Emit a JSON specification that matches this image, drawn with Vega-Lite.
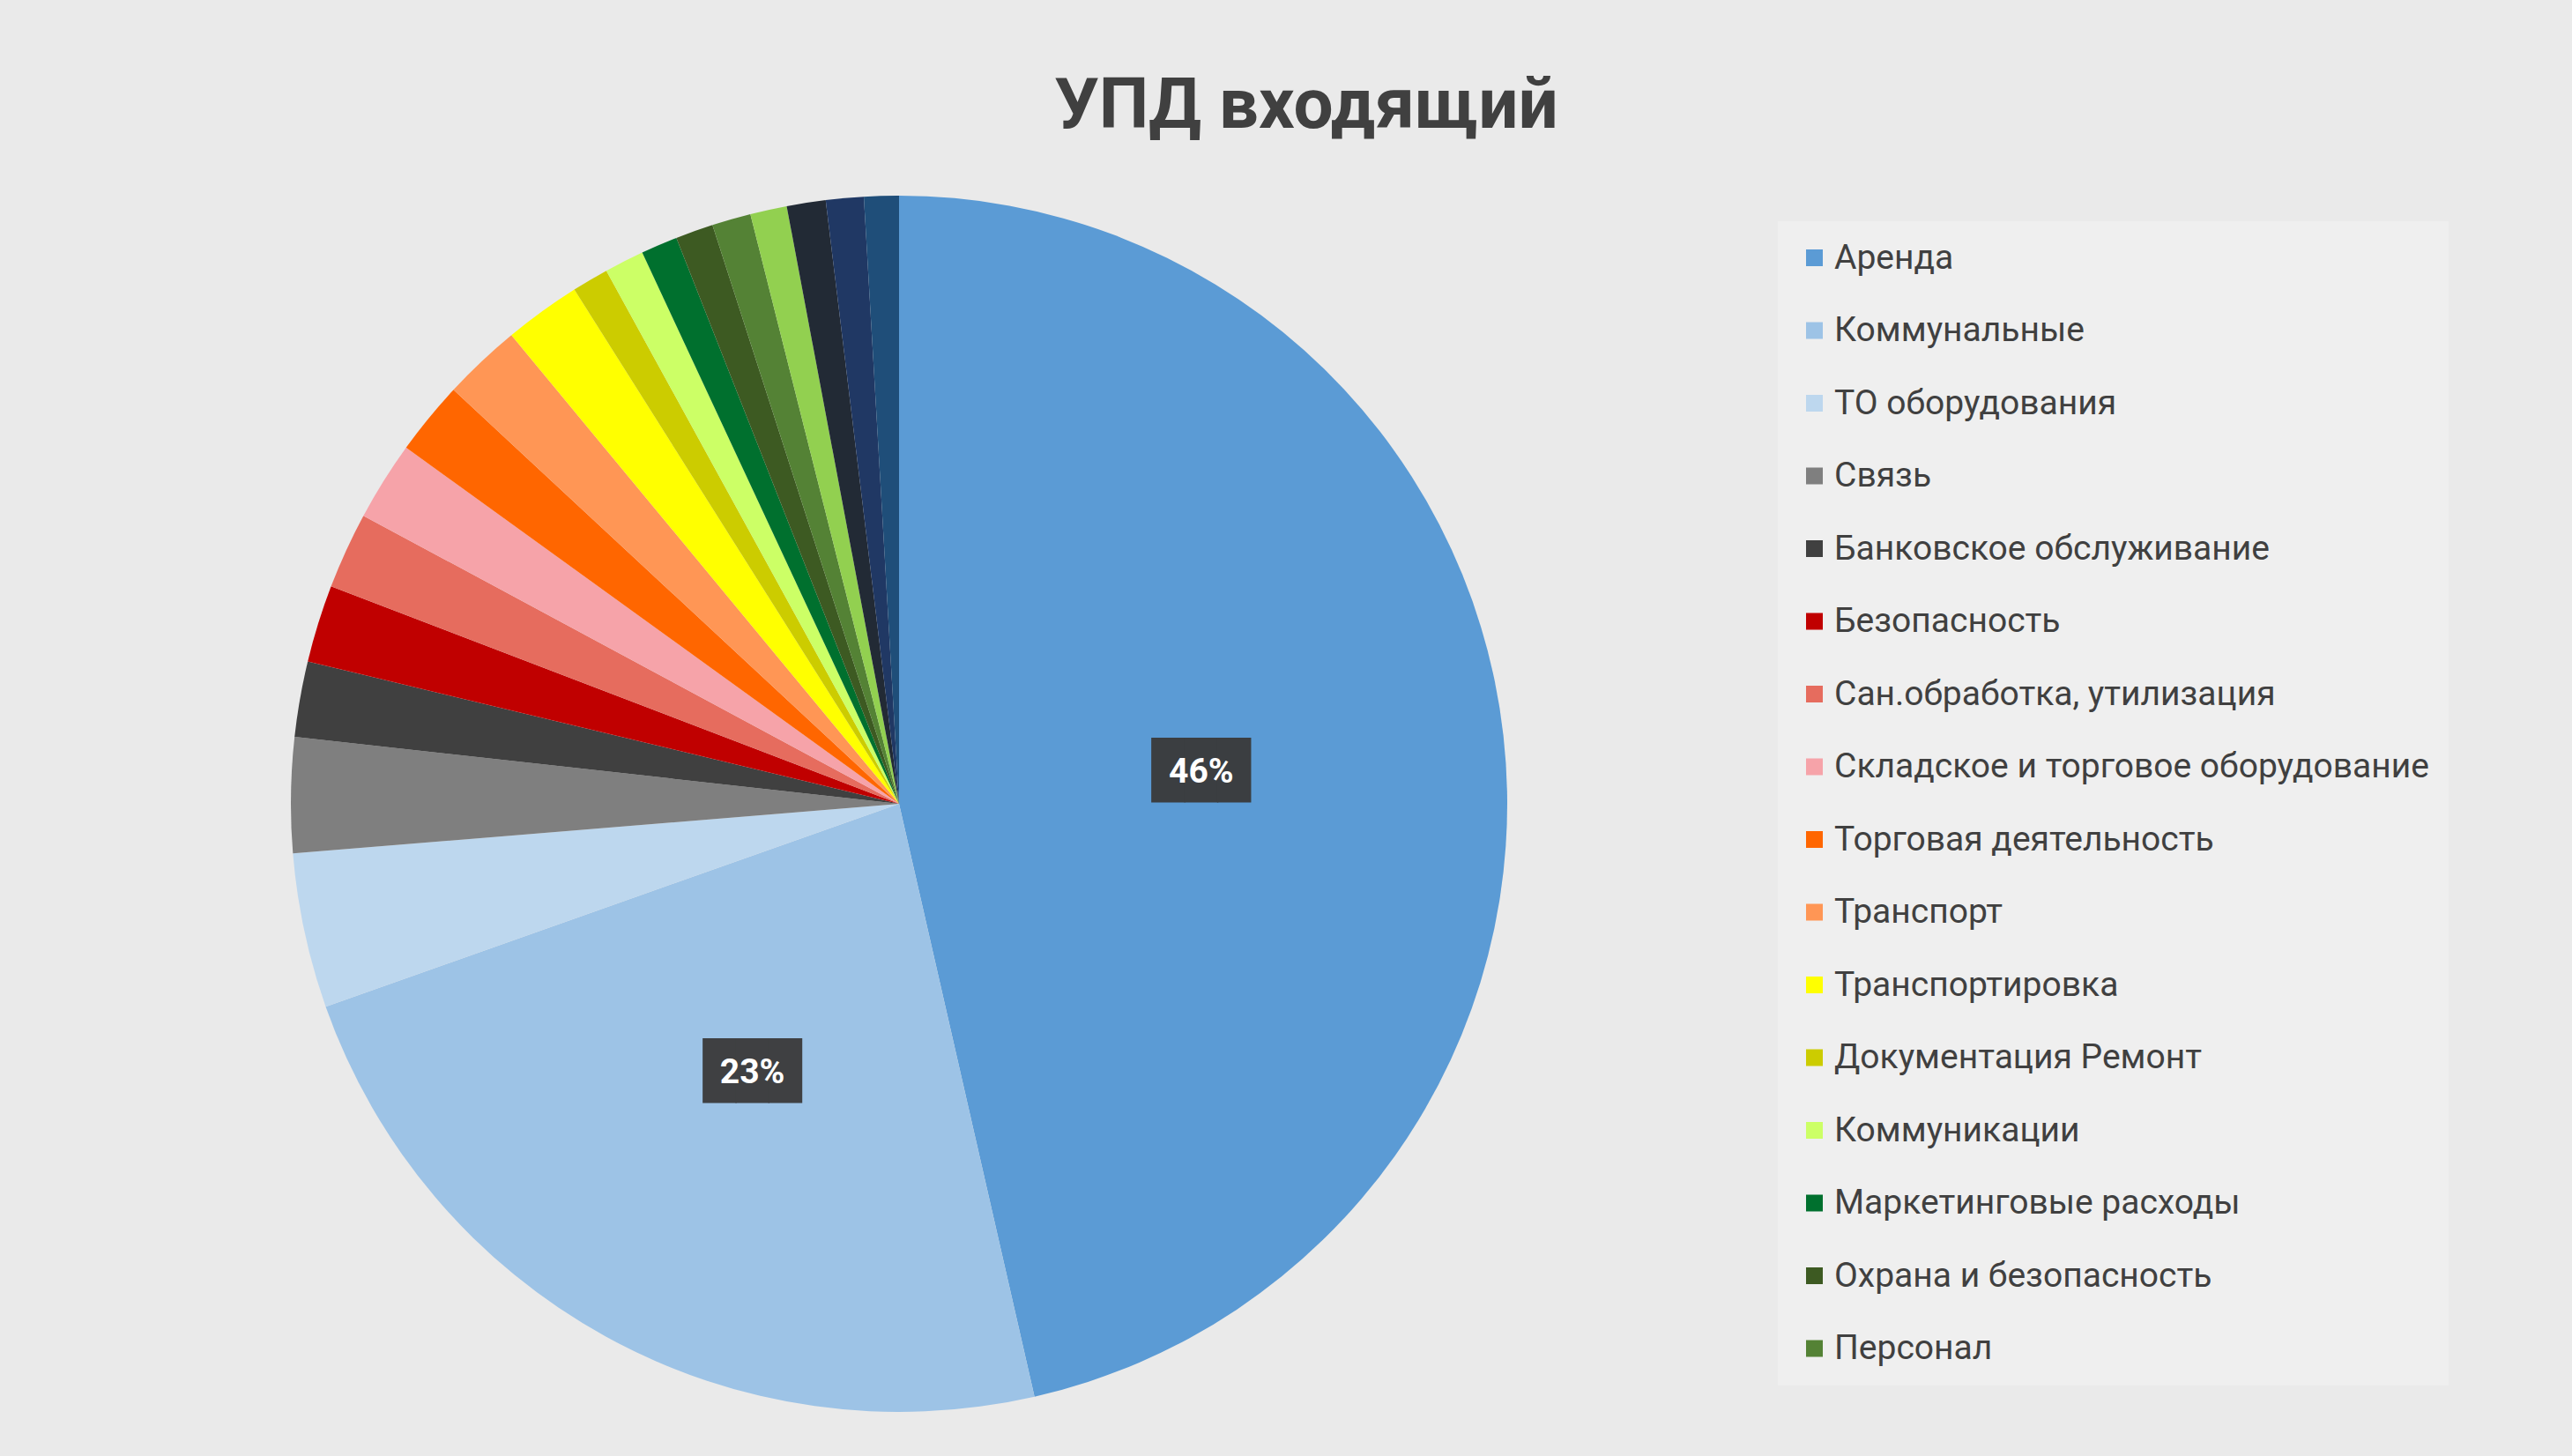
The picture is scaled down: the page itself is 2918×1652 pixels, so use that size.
{
  "$schema": "https://vega.github.io/schema/vega-lite/v6.json",
  "width": 2040,
  "height": 1480,
  "autosize": {"type": "none"},
  "padding": {"left": 0, "top": 172, "right": 878, "bottom": 0},
  "background": "#eaeaea",
  "config": {"view": {"stroke": null}},
  "title": {
    "text": "УПД входящий",
    "font": "Roboto",
    "fontSize": 80,
    "fontWeight": "bold",
    "color": "#404040",
    "anchor": "middle",
    "dx": 462,
    "offset": 10
  },
  "data": {
    "values": [
      {"k": 1, "cat": "Аренда", "share": 0.463},
      {"k": 2, "cat": "Коммунальные", "share": 0.231},
      {"k": 3, "cat": "ТО оборудования", "share": 0.041},
      {"k": 4, "cat": "Связь", "share": 0.0305},
      {"k": 5, "cat": "Банковское обслуживание", "share": 0.020},
      {"k": 6, "cat": "Безопасность", "share": 0.0205},
      {"k": 7, "cat": "Сан.обработка, утилизация", "share": 0.0203},
      {"k": 8, "cat": "Складское и торговое оборудование", "share": 0.021},
      {"k": 9, "cat": "Торговая деятельность", "share": 0.0195},
      {"k": 10, "cat": "Транспорт", "share": 0.0208},
      {"k": 11, "cat": "Транспортировка", "share": 0.0203},
      {"k": 12, "cat": "Документация Ремонт", "share": 0.0097},
      {"k": 13, "cat": "Коммуникации", "share": 0.0105},
      {"k": 14, "cat": "Маркетинговые расходы", "share": 0.0097},
      {"k": 15, "cat": "Охрана и безопасность", "share": 0.010},
      {"k": 16, "cat": "Персонал", "share": 0.0103},
      {"k": 17, "cat": "Прочее 1", "share": 0.0097},
      {"k": 18, "cat": "Прочее 2", "share": 0.0103},
      {"k": 19, "cat": "Прочее 3", "share": 0.010},
      {"k": 20, "cat": "Прочее 4", "share": 0.0092}
    ]
  },
  "encoding": {
    "theta": {"field": "share", "type": "quantitative", "stack": true},
    "order": {"field": "k", "type": "quantitative"}
  },
  "layer": [
    {
      "mark": {"type": "arc", "outerRadius": 690},
      "encoding": {
        "color": {
          "field": "cat",
          "type": "nominal",
          "scale": {
            "domain": ["Аренда", "Коммунальные", "ТО оборудования", "Связь", "Банковское обслуживание", "Безопасность", "Сан.обработка, утилизация", "Складское и торговое оборудование", "Торговая деятельность", "Транспорт", "Транспортировка", "Документация Ремонт", "Коммуникации", "Маркетинговые расходы", "Охрана и безопасность", "Персонал", "Прочее 1", "Прочее 2", "Прочее 3", "Прочее 4"],
            "range": ["#5b9bd5", "#9dc3e6", "#bdd7ee", "#7f7f7f", "#404040", "#c00000", "#e66c5e", "#f6a3a9", "#ff6600", "#ff9655", "#ffff00", "#cccc00", "#ccff66", "#00702e", "#3d5a22", "#548235", "#92d050", "#222a35", "#203864", "#1f4e79"]
          },
          "legend": {
            "title": null,
            "orient": "none",
            "legendX": 2017,
            "legendY": 79,
            "values": ["Аренда", "Коммунальные", "ТО оборудования", "Связь", "Банковское обслуживание", "Безопасность", "Сан.обработка, утилизация", "Складское и торговое оборудование", "Торговая деятельность", "Транспорт", "Транспортировка", "Документация Ремонт", "Коммуникации", "Маркетинговые расходы", "Охрана и безопасность", "Персонал"],
            "labelFont": "Roboto",
            "labelFontSize": 39,
            "labelColor": "#404040",
            "labelLimit": 1200,
            "labelOffset": 3,
            "symbolType": "square",
            "symbolSize": 361,
            "symbolStrokeWidth": 0,
            "rowPadding": 42.5,
            "padding": 22,
            "fillColor": "#efefef"
          }
        }
      }
    },
    {
      "mark": {"type": "text", "radius": 345, "text": "███", "font": "DejaVu Sans Mono", "fontSize": 62, "color": "#3a3a3a", "align": "center", "baseline": "middle", "dy": 3},
      "encoding": {
        "opacity": {"condition": {"test": "datum.share > 0.1", "value": 0.95}, "value": 0}
      }
    },
    {
      "mark": {"type": "text", "radius": 345, "font": "Roboto", "fontWeight": "bold", "fontSize": 39, "color": "#ffffff", "align": "center", "baseline": "middle", "dy": 3},
      "encoding": {
        "text": {"field": "share", "type": "quantitative", "format": ".0%"},
        "opacity": {"condition": {"test": "datum.share > 0.1", "value": 1}, "value": 0}
      }
    }
  ]
}
